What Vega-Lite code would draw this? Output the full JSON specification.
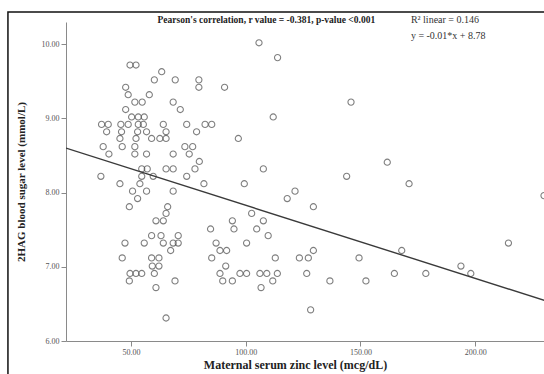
{
  "$schema": "https://vega.github.io/schema/vega-lite/v6.json",
  "width": 478,
  "height": 319,
  "autosize": "none",
  "padding": {"left": 66, "top": 22, "right": 0, "bottom": 33},
  "background": "white",
  "config": {
    "view": {"stroke": null},
    "font": "Liberation Serif",
    "axis": {
      "grid": false,
      "domainColor": "#8a8a8a",
      "tickColor": "#8a8a8a",
      "labelColor": "#555555",
      "labelFont": "Liberation Serif",
      "labelFontSize": 8,
      "titleFont": "Liberation Serif",
      "titleFontWeight": "bold",
      "titleColor": "#222222",
      "tickSize": 5,
      "labelPadding": 2
    }
  },
  "datasets": {
    "points": [
      {"zinc": 105.8, "sugar": 10.02}, {"zinc": 113.9, "sugar": 9.82}, {"zinc": 49.6, "sugar": 9.72}, {"zinc": 52.2, "sugar": 9.72},
      {"zinc": 63.4, "sugar": 9.63}, {"zinc": 60.2, "sugar": 9.52}, {"zinc": 69.3, "sugar": 9.52}, {"zinc": 79.6, "sugar": 9.52},
      {"zinc": 47.7, "sugar": 9.42}, {"zinc": 79.6, "sugar": 9.42}, {"zinc": 90.8, "sugar": 9.42}, {"zinc": 48.8, "sugar": 9.32},
      {"zinc": 58.0, "sugar": 9.32}, {"zinc": 51.7, "sugar": 9.22}, {"zinc": 54.9, "sugar": 9.22}, {"zinc": 68.4, "sugar": 9.22},
      {"zinc": 71.5, "sugar": 9.12}, {"zinc": 47.7, "sugar": 9.12}, {"zinc": 50.3, "sugar": 9.02}, {"zinc": 53.2, "sugar": 9.02},
      {"zinc": 55.8, "sugar": 9.02}, {"zinc": 112.0, "sugar": 9.02}, {"zinc": 37.2, "sugar": 8.92}, {"zinc": 40.1, "sugar": 8.92},
      {"zinc": 45.6, "sugar": 8.92}, {"zinc": 48.8, "sugar": 8.92}, {"zinc": 53.2, "sugar": 8.92}, {"zinc": 55.4, "sugar": 8.92},
      {"zinc": 64.1, "sugar": 8.92}, {"zinc": 74.3, "sugar": 8.92}, {"zinc": 82.3, "sugar": 8.92}, {"zinc": 85.2, "sugar": 8.92},
      {"zinc": 39.4, "sugar": 8.82}, {"zinc": 45.9, "sugar": 8.82}, {"zinc": 52.9, "sugar": 8.82}, {"zinc": 56.8, "sugar": 8.82},
      {"zinc": 65.3, "sugar": 8.82}, {"zinc": 78.6, "sugar": 8.82}, {"zinc": 45.2, "sugar": 8.73}, {"zinc": 52.2, "sugar": 8.73},
      {"zinc": 59.0, "sugar": 8.73}, {"zinc": 62.6, "sugar": 8.73}, {"zinc": 65.3, "sugar": 8.73}, {"zinc": 96.8, "sugar": 8.73},
      {"zinc": 37.9, "sugar": 8.62}, {"zinc": 46.2, "sugar": 8.62}, {"zinc": 51.7, "sugar": 8.62}, {"zinc": 73.5, "sugar": 8.62},
      {"zinc": 76.9, "sugar": 8.62}, {"zinc": 40.4, "sugar": 8.52}, {"zinc": 51.7, "sugar": 8.52}, {"zinc": 56.8, "sugar": 8.52},
      {"zinc": 68.4, "sugar": 8.52}, {"zinc": 75.4, "sugar": 8.52}, {"zinc": 79.8, "sugar": 8.42}, {"zinc": 54.7, "sugar": 8.32},
      {"zinc": 57.1, "sugar": 8.32}, {"zinc": 65.3, "sugar": 8.32}, {"zinc": 68.4, "sugar": 8.32}, {"zinc": 77.9, "sugar": 8.32},
      {"zinc": 107.7, "sugar": 8.32}, {"zinc": 36.9, "sugar": 8.22}, {"zinc": 54.7, "sugar": 8.22}, {"zinc": 59.7, "sugar": 8.22},
      {"zinc": 74.3, "sugar": 8.22}, {"zinc": 45.2, "sugar": 8.12}, {"zinc": 53.9, "sugar": 8.12}, {"zinc": 81.8, "sugar": 8.12},
      {"zinc": 99.4, "sugar": 8.12}, {"zinc": 50.7, "sugar": 8.02}, {"zinc": 56.8, "sugar": 8.02}, {"zinc": 68.4, "sugar": 8.02},
      {"zinc": 52.9, "sugar": 7.92}, {"zinc": 49.3, "sugar": 7.81}, {"zinc": 66.0, "sugar": 7.81}, {"zinc": 65.3, "sugar": 7.72},
      {"zinc": 102.6, "sugar": 7.72}, {"zinc": 60.9, "sugar": 7.62}, {"zinc": 64.1, "sugar": 7.62}, {"zinc": 94.2, "sugar": 7.62},
      {"zinc": 107.7, "sugar": 7.62}, {"zinc": 84.7, "sugar": 7.51}, {"zinc": 94.9, "sugar": 7.51}, {"zinc": 104.8, "sugar": 7.51},
      {"zinc": 59.0, "sugar": 7.42}, {"zinc": 63.1, "sugar": 7.42}, {"zinc": 70.6, "sugar": 7.42}, {"zinc": 109.8, "sugar": 7.42},
      {"zinc": 47.4, "sugar": 7.32}, {"zinc": 55.8, "sugar": 7.32}, {"zinc": 64.1, "sugar": 7.32}, {"zinc": 68.4, "sugar": 7.32},
      {"zinc": 70.6, "sugar": 7.32}, {"zinc": 87.1, "sugar": 7.32}, {"zinc": 100.4, "sugar": 7.32}, {"zinc": 67.3, "sugar": 7.22},
      {"zinc": 88.8, "sugar": 7.22}, {"zinc": 91.7, "sugar": 7.22}, {"zinc": 46.2, "sugar": 7.12}, {"zinc": 59.0, "sugar": 7.12},
      {"zinc": 62.2, "sugar": 7.12}, {"zinc": 85.2, "sugar": 7.12}, {"zinc": 112.9, "sugar": 7.12}, {"zinc": 59.3, "sugar": 7.01},
      {"zinc": 62.2, "sugar": 7.01}, {"zinc": 91.3, "sugar": 7.01}, {"zinc": 49.6, "sugar": 6.91}, {"zinc": 52.2, "sugar": 6.91},
      {"zinc": 54.7, "sugar": 6.91}, {"zinc": 60.2, "sugar": 6.91}, {"zinc": 88.8, "sugar": 6.91}, {"zinc": 97.5, "sugar": 6.91},
      {"zinc": 100.4, "sugar": 6.91}, {"zinc": 106.2, "sugar": 6.91}, {"zinc": 109.2, "sugar": 6.91}, {"zinc": 113.8, "sugar": 6.91},
      {"zinc": 49.3, "sugar": 6.81}, {"zinc": 69.2, "sugar": 6.81}, {"zinc": 90.0, "sugar": 6.81}, {"zinc": 94.2, "sugar": 6.81},
      {"zinc": 111.8, "sugar": 6.81}, {"zinc": 60.9, "sugar": 6.72}, {"zinc": 106.7, "sugar": 6.72}, {"zinc": 65.3, "sugar": 6.31},
      {"zinc": 145.9, "sugar": 9.22}, {"zinc": 161.7, "sugar": 8.41}, {"zinc": 144.0, "sugar": 8.22}, {"zinc": 171.2, "sugar": 8.12},
      {"zinc": 121.5, "sugar": 8.02}, {"zinc": 118.1, "sugar": 7.92}, {"zinc": 129.5, "sugar": 7.81}, {"zinc": 230.0, "sugar": 7.96},
      {"zinc": 129.5, "sugar": 7.22}, {"zinc": 168.0, "sugar": 7.22}, {"zinc": 214.5, "sugar": 7.32}, {"zinc": 123.4, "sugar": 7.12},
      {"zinc": 127.3, "sugar": 7.12}, {"zinc": 149.4, "sugar": 7.12}, {"zinc": 193.8, "sugar": 7.01}, {"zinc": 126.6, "sugar": 6.91},
      {"zinc": 164.8, "sugar": 6.91}, {"zinc": 178.5, "sugar": 6.91}, {"zinc": 198.1, "sugar": 6.91}, {"zinc": 136.7, "sugar": 6.81},
      {"zinc": 152.4, "sugar": 6.81}, {"zinc": 128.3, "sugar": 6.42}
    ],
    "fit": [
      {"zinc": 21.7, "sugar": 8.60},
      {"zinc": 232.0, "sugar": 6.53}
    ],
    "notes": [
      {"zinc": 109.0, "sugar": 10.33, "label": "Pearson's correlation, r value = -0.381, p-value <0.001", "kind": "pearson"},
      {"zinc": 172.0, "sugar": 10.33, "label": "R² linear = 0.146", "kind": "fit"},
      {"zinc": 172.0, "sugar": 10.11, "label": "y = -0.01*x + 8.78", "kind": "fit"}
    ],
    "frame": [
      {"x1": -3.6, "x2": 260, "y1": 10.435, "y2": 4.5}
    ]
  },
  "layer": [
    {
      "data": {"name": "points"},
      "mark": {"type": "point", "shape": "circle", "filled": false, "stroke": "#4a4a4a", "strokeWidth": 1.1, "size": 38, "clip": true},
      "encoding": {
        "x": {
          "field": "zinc", "type": "quantitative",
          "scale": {"domain": [21.7, 230], "nice": false, "zero": false},
          "axis": {"values": [50, 100, 150, 200], "format": ".2f", "title": "Maternal serum zinc level (mcg/dL)", "titleFontSize": 12, "titlePadding": 3, "titleX": 229}
        },
        "y": {
          "field": "sugar", "type": "quantitative",
          "scale": {"domain": [6, 10.3], "nice": false, "zero": false},
          "axis": {"values": [6, 7, 8, 9, 10], "format": ".2f", "title": "2HAG blood sugar level (mmol/L)", "titleFontSize": 11, "titlePadding": 15}
        }
      }
    },
    {
      "data": {"name": "fit"},
      "mark": {"type": "line", "color": "#3a3a3a", "strokeWidth": 1.4, "clip": true},
      "encoding": {
        "x": {"field": "zinc", "type": "quantitative", "scale": {"domain": [21.7, 230], "nice": false, "zero": false}},
        "y": {"field": "sugar", "type": "quantitative", "scale": {"domain": [6, 10.3], "nice": false, "zero": false}}
      }
    },
    {
      "data": {"name": "notes"},
      "transform": [{"filter": "datum.kind === 'pearson'"}],
      "mark": {"type": "text", "font": "Liberation Serif", "fontWeight": "bold", "fontSize": 9.5, "align": "center", "baseline": "middle", "color": "#222222"},
      "encoding": {
        "x": {"field": "zinc", "type": "quantitative", "scale": {"domain": [21.7, 230], "nice": false, "zero": false}},
        "y": {"field": "sugar", "type": "quantitative", "scale": {"domain": [6, 10.3], "nice": false, "zero": false}},
        "text": {"field": "label"}
      }
    },
    {
      "data": {"name": "notes"},
      "transform": [{"filter": "datum.kind === 'fit'"}],
      "mark": {"type": "text", "font": "Liberation Serif", "fontSize": 10, "align": "left", "baseline": "middle", "color": "#333333"},
      "encoding": {
        "x": {"field": "zinc", "type": "quantitative", "scale": {"domain": [21.7, 230], "nice": false, "zero": false}},
        "y": {"field": "sugar", "type": "quantitative", "scale": {"domain": [6, 10.3], "nice": false, "zero": false}},
        "text": {"field": "label"}
      }
    },
    {
      "data": {"name": "frame"},
      "mark": {"type": "rect", "fill": null, "fillOpacity": 0, "stroke": "#111111", "strokeWidth": 1.5, "clip": false},
      "encoding": {
        "x": {"field": "x1", "type": "quantitative", "scale": {"domain": [21.7, 230], "nice": false, "zero": false}},
        "x2": {"field": "x2"},
        "y": {"field": "y1", "type": "quantitative", "scale": {"domain": [6, 10.3], "nice": false, "zero": false}},
        "y2": {"field": "y2"}
      }
    }
  ]
}
